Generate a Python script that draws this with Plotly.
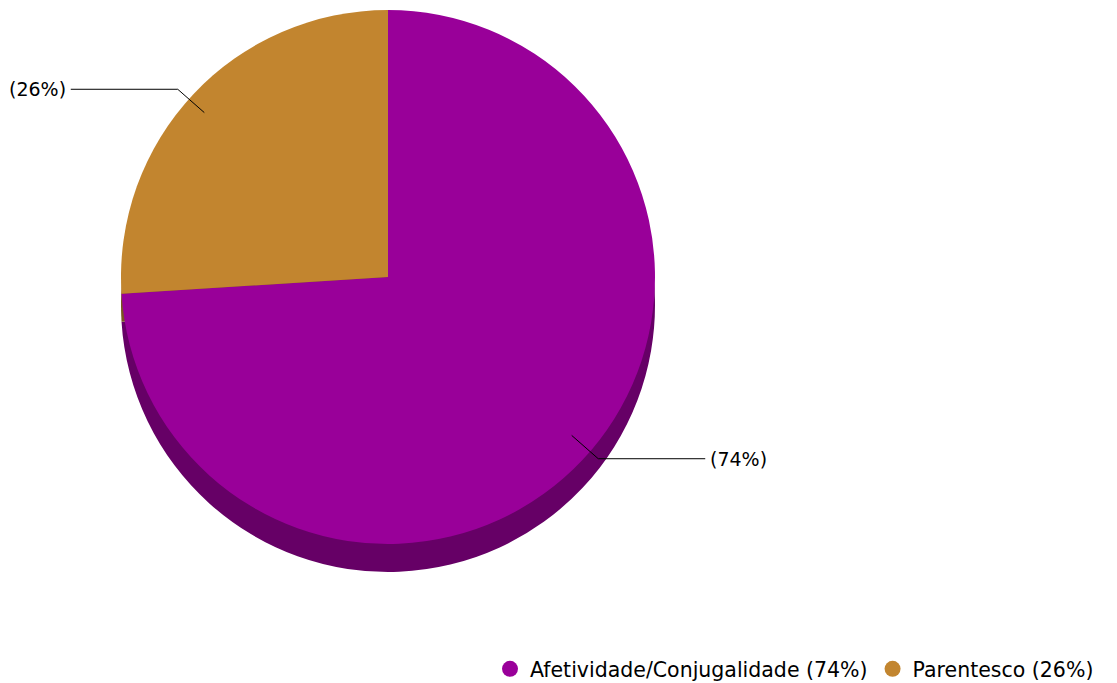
import math
import plotly.graph_objects as go

categories = ["Afetividade/Conjugalidade", "Parentesco"]
values = [74, 26]
colors = ["#990099", "#C2852F"]
dark_colors = ["#660066", "#7A5420"]

W, H = 1117, 683
OFF = 8  # page body margin
cx, cy, r = 388, 277, 267
lcy = 274
rx, ry = 280, 262  # label geometry (reference pie is slightly elliptical)
depth = 28

def px(x):
    return (x - OFF) / W

def py(y):
    return 1 - (y - OFF) / H

def dom(cx_, cy_, r_):
    return dict(x=[max(0, px(cx_ - r_)), min(1, px(cx_ + r_))],
                y=[max(0, py(cy_ + r_)), min(1, py(cy_ - r_))])

fig = go.Figure()
fig.add_trace(go.Pie(labels=categories, values=values, sort=False, direction="clockwise",
                     rotation=0, marker=dict(colors=dark_colors, line=dict(width=0)),
                     textinfo="none", hoverinfo="skip", showlegend=False,
                     domain=dom(cx, cy + depth, r)))
fig.add_trace(go.Pie(labels=categories, values=values, sort=False, direction="clockwise",
                     rotation=0, marker=dict(colors=colors, line=dict(width=0)),
                     textinfo="none", showlegend=False,
                     domain=dom(cx, cy, r)))

total = sum(values)
for cat, v, col in zip(categories, values, colors):
    fig.add_trace(go.Scatter(x=[None], y=[None], mode="markers",
                             marker=dict(symbol="circle", size=20, color=col),
                             name=f"{cat} ({round(100 * v / total)}%)", showlegend=True))

shapes, annotations = [], []
cum = 0
for v in values:
    m = (cum + v / 2) / total
    cum += v
    th = 2 * math.pi * m
    dx, dy = math.sin(th), -math.cos(th)
    p1 = (cx + 0.9 * rx * dx, lcy + 0.9 * ry * dy)
    p2 = (cx + 1.03 * rx * dx, lcy + 1.03 * ry * dy)
    sgn = 1 if dx >= 0 else -1
    p3 = (p2[0] + sgn * 107, p2[1])
    path = "M {} {} L {} {} L {} {}".format(px(p1[0]), py(p1[1]), px(p2[0]), py(p2[1]),
                                            px(p3[0]), py(p3[1]))
    shapes.append(dict(type="path", xref="paper", yref="paper", path=path,
                       line=dict(color="black", width=1)))
    annotations.append(dict(xref="paper", yref="paper", x=px(p3[0] + sgn * 3), y=py(p3[1]),
                            text=f"({round(100 * v / total)}%)", showarrow=False,
                            xanchor="left" if sgn > 0 else "right", yanchor="middle",
                            font=dict(family="DejaVu Sans", size=19, color="black")))

fig.update_layout(
    width=W, height=H, margin=dict(l=0, r=0, t=0, b=0),
    paper_bgcolor="white", plot_bgcolor="white",
    xaxis=dict(visible=False), yaxis=dict(visible=False),
    shapes=shapes, annotations=annotations,
    font=dict(family="DejaVu Sans", size=20.5, color="black"),
    legend=dict(orientation="h", x=px(1099), xanchor="right", y=py(669), yanchor="middle",
                font=dict(family="DejaVu Sans", size=20.5), itemwidth=30,
                bgcolor="rgba(0,0,0,0)"),
)
fig.write_html("out.html")
